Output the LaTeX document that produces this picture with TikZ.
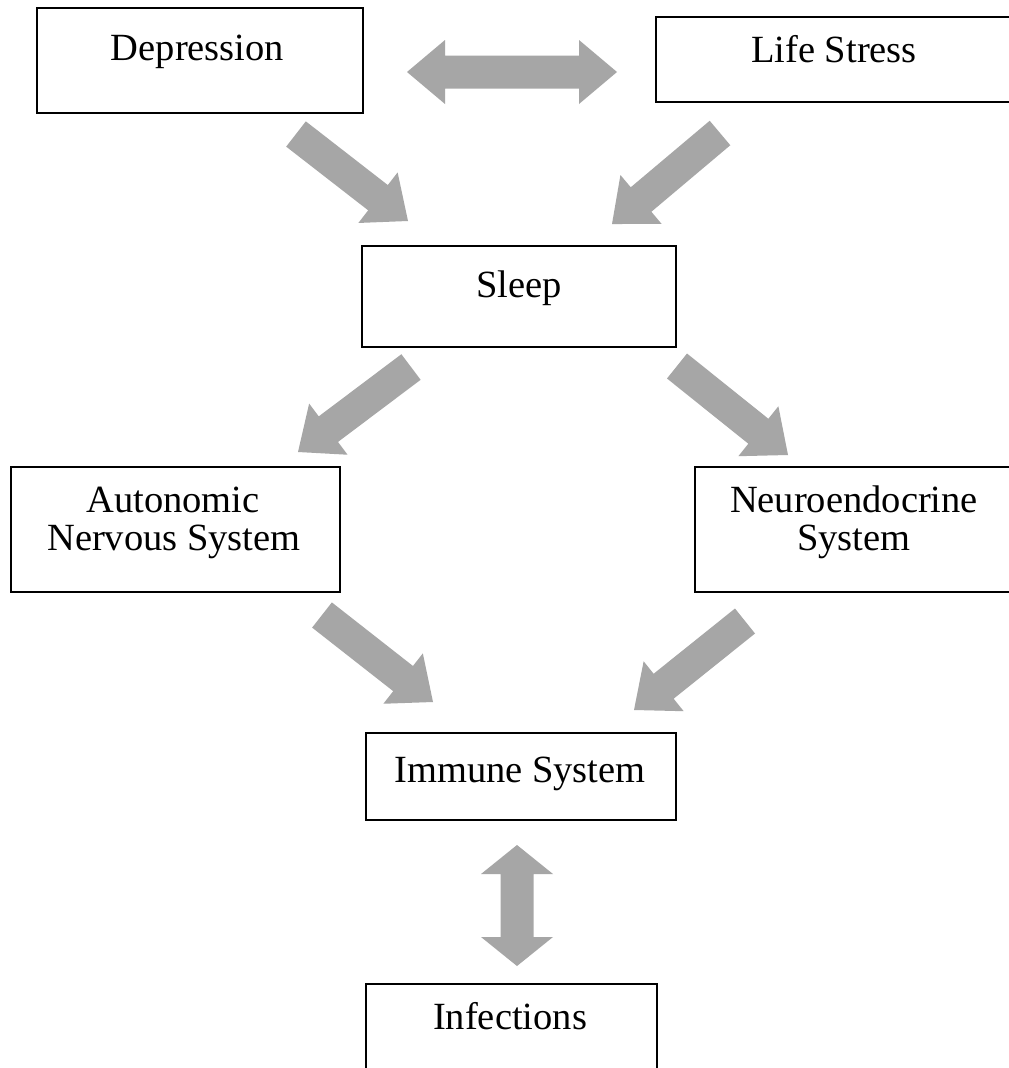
\documentclass[tikz,border=0pt]{standalone}
\usepackage{fontspec}
\setmainfont{Liberation Serif}
\usetikzlibrary{calc}
\definecolor{arrowgray}{RGB}{166,166,166}
\newcommand{\singleblock}[2]{%
  \coordinate (hh) at ($(#2)!38pt!(#1)$);
  \fill[arrowgray] ($(#1)!16pt!90:(#2)$) -- ($(hh)!16pt!90:(#2)$) -- ($(hh)!32pt!90:(#2)$) -- (#2)
    -- ($(hh)!32pt!-90:(#2)$) -- ($(hh)!16pt!-90:(#2)$) -- ($(#1)!16pt!-90:(#2)$) -- cycle;}
\newcommand{\doubleblock}[5]{%
  \coordinate (ha) at ($(#1)!#5!(#2)$);
  \coordinate (hb) at ($(#2)!#5!(#1)$);
  \fill[arrowgray] (#1) -- ($(ha)!#4!90:(#2)$) -- ($(ha)!#3!90:(#2)$) -- ($(hb)!#3!90:(#2)$)
    -- ($(hb)!#4!90:(#2)$) -- (#2) -- ($(hb)!#4!-90:(#2)$) -- ($(hb)!#3!-90:(#2)$)
    -- ($(ha)!#3!-90:(#2)$) -- ($(ha)!#4!-90:(#2)$) -- cycle;}
\begin{document}
\begin{tikzpicture}[x=1pt,y=-1pt,
  box/.style={draw=black, line width=1.6pt, inner sep=0pt, fill=white},
  lbl/.style={font=\fontsize{38.5}{40}\selectfont, inner sep=0pt, anchor=base}]
\useasboundingbox (0,0) rectangle (1009,1068);
\fill[white] (0,0) rectangle (1009,1068);
\clip (0,0) rectangle (1009,1068);
% boxes
\node[box, minimum width=326pt, minimum height=105pt] (dep) at (200,60.5) {};
\node[box, minimum width=359pt, minimum height=85pt] (life) at (835.5,59.5) {};
\node[box, minimum width=314pt, minimum height=101pt] (sleep) at (519,296.5) {};
\node[box, minimum width=329pt, minimum height=125pt] (ans) at (175.5,529.5) {};
\node[box, minimum width=320pt, minimum height=125pt] (nes) at (855,529.5) {};
\node[box, minimum width=310pt, minimum height=87pt] (imm) at (521,776.5) {};
\node[box, minimum width=291pt, minimum height=91pt] (inf) at (511.5,1029.5) {};
% labels
\node[lbl] (depT) at (197.5,60) {Depression};
\node[lbl] (lifeT) at (834,62) {Life Stress};
\node[lbl] (sleepT) at (519,297) {Sleep};
\node[lbl] (ansT1) at (173,512) {Autonomic};
\node[lbl] (ansT2) at (174,550) {Nervous System};
\node[lbl] (nesT1) at (854,512) {Neuroendocrine};
\node[lbl] (nesT2) at (854,550) {System};
\node[lbl] (immT) at (520,782) {Immune System};
\node[lbl] (infT) at (510,1029) {Infections};
% arrow end points
\coordinate (a1s) at (407,72);  \coordinate (a1e) at (617,72);
\coordinate (a2s) at (296,134); \coordinate (a2e) at (408,221);
\coordinate (a3s) at (720,133); \coordinate (a3e) at (612,224);
\coordinate (a4s) at (411,367); \coordinate (a4e) at (298,452);
\coordinate (a5s) at (677,366); \coordinate (a5e) at (788,455);
\coordinate (a6s) at (322,615); \coordinate (a6e) at (433,702);
\coordinate (a7s) at (745,621); \coordinate (a7e) at (634,710);
\coordinate (a8s) at (517,845); \coordinate (a8e) at (517,966);
% arrows
\doubleblock{a1s}{a1e}{16.5pt}{32pt}{38pt}
\singleblock{a2s}{a2e}
\singleblock{a3s}{a3e}
\singleblock{a4s}{a4e}
\singleblock{a5s}{a5e}
\singleblock{a6s}{a6e}
\singleblock{a7s}{a7e}
\doubleblock{a8s}{a8e}{16.5pt}{36pt}{29pt}
\end{tikzpicture}
\end{document}
